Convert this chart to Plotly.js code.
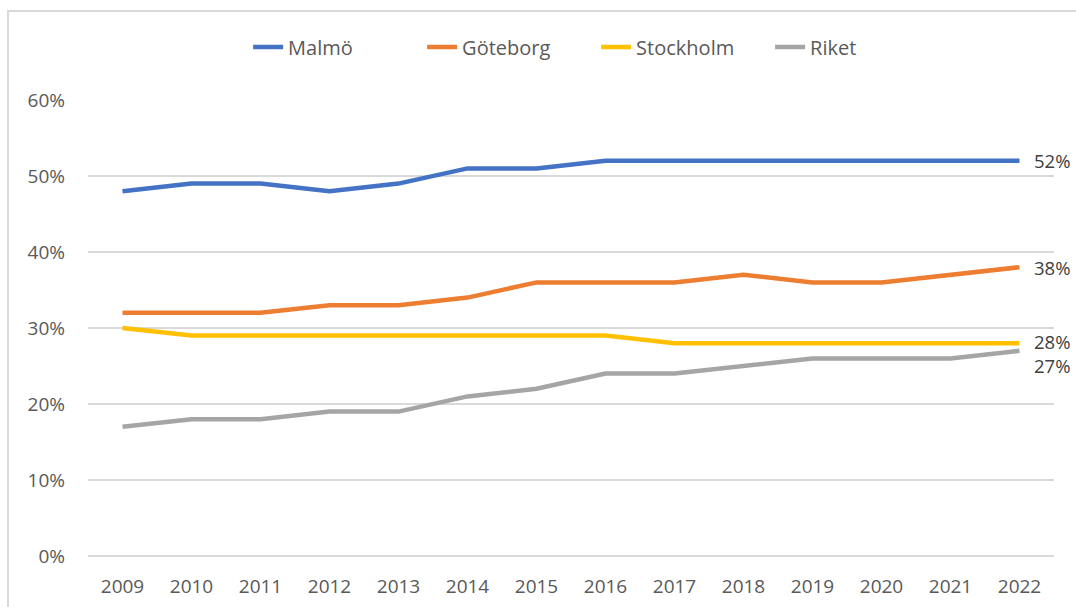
<!DOCTYPE html>
<html>
<head>
<meta charset="utf-8">
<script src="https://cdn.plot.ly/plotly-3.0.1.min.js"></script>
<style>
  html, body { margin: 0; padding: 0; background: #fff; overflow: hidden; }
  #chart { position: absolute; left: 0; top: 0; width: 1076px; height: 607px; }
  #frame { position: absolute; left: 7px; top: 10px; width: 2000px; height: 2000px;
           border-left: 2px solid #d9d9d9; border-top: 2px solid #d9d9d9; pointer-events: none; }
</style>
</head>
<body>
<div id="chart"></div>
<div id="frame"></div>
<script>
const years = ["2009","2010","2011","2012","2013","2014","2015","2016","2017","2018","2019","2020","2021","2022"];
const malmo     = [0.48,0.49,0.49,0.48,0.49,0.51,0.51,0.52,0.52,0.52,0.52,0.52,0.52,0.52];
const goteborg  = [0.32,0.32,0.32,0.33,0.33,0.34,0.36,0.36,0.36,0.37,0.36,0.36,0.37,0.38];
const stockholm = [0.30,0.29,0.29,0.29,0.29,0.29,0.29,0.29,0.28,0.28,0.28,0.28,0.28,0.28];
const riket     = [0.17,0.18,0.18,0.19,0.19,0.21,0.22,0.24,0.24,0.25,0.26,0.26,0.26,0.27];

const seriesNames = ["Malmö","Göteborg","Stockholm","Riket"];
const seriesData = [malmo, goteborg, stockholm, riket];
const seriesColors = ["#4472C4","#ED7D31","#FFC000","#A5A5A5"];
const labelShift = [0, 0, 2, -15];

const font = "'Open Sans', 'Noto Sans', sans-serif";

const traces = seriesNames.map((n, i) => ({
  type: "scatter",
  mode: "lines",
  name: n,
  x: years,
  y: seriesData[i],
  line: { color: seriesColors[i], width: 4.5 },
  hoverinfo: "skip"
}));

const lastIdx = years.length - 1;
const annotations = seriesNames.map((n, i) => {
  const v = seriesData[i][lastIdx];
  return {
    xref: "x", yref: "y",
    x: lastIdx, y: v,
    text: Math.round(v * 100) + "%",
    showarrow: false,
    xanchor: "left", yanchor: "middle",
    xshift: 12, yshift: labelShift[i],
    font: { family: font, size: 18.5, color: "#404040" }
  };
});

const layout = {
  width: 1076, height: 607,
  margin: { l: 88, r: 22, t: 100, b: 51 },
  paper_bgcolor: "#ffffff",
  plot_bgcolor: "#ffffff",
  font: { family: font, size: 19, color: "#595959" },
  showlegend: true,
  legend: {
    orientation: "h",
    x: 0.526, xanchor: "center",
    y: 1.116, yanchor: "middle",
    font: { family: font, size: 20, color: "#595959" },
    entrywidth: 129,
    traceorder: "normal"
  },
  xaxis: {
    type: "category",
    range: [-0.5, 13.5],
    showgrid: false,
    showline: false,
    zeroline: false,
    ticks: "",
    ticklabelstandoff: 17,
    tickfont: { family: font, size: 19, color: "#595959" },
    fixedrange: true
  },
  yaxis: {
    range: [0, 0.6],
    dtick: 0.1,
    tick0: 0,
    tickformat: ".0%",
    showgrid: true,
    gridcolor: "#d9d9d9",
    gridwidth: 1.5,
    zeroline: true,
    zerolinecolor: "#d9d9d9",
    zerolinewidth: 1.5,
    showline: false,
    ticks: "",
    ticklabelstandoff: 22,
    tickfont: { family: font, size: 19, color: "#595959" },
    fixedrange: true
  },
  annotations: annotations
};

Plotly.newPlot("chart", traces, layout, { displayModeBar: false, staticPlot: true });
</script>
</body>
</html>
